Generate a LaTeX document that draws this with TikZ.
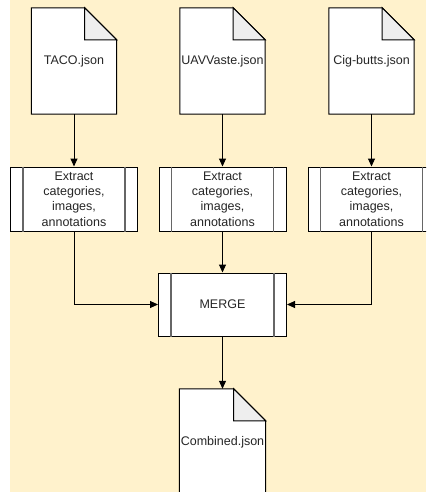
\documentclass[tikz,border=0pt]{standalone}
\usepackage{fontspec}
\setmainfont{Liberation Sans}
\usepackage{tikz}
\usetikzlibrary{arrows.meta,backgrounds}

\definecolor{cream}{HTML}{FFF2CC}
\definecolor{foldgray}{HTML}{EEEEEE}
\definecolor{bargray}{HTML}{666666}

\begin{document}
\begin{tikzpicture}[x=1pt, y=-1pt,
    every node/.style = {font=\fontsize{12.5}{15.3}\selectfont, text=black!85, align=center},
    docnode/.style = {minimum width=85pt, minimum height=106pt, inner sep=0pt},
    procnode/.style = {draw, line width=1pt, fill=white, minimum width=127pt, minimum height=64pt, inner sep=0pt},
    flow/.style = {line width=1pt, -{Triangle[length=8pt, width=7pt]}}]
     \useasboundingbox (0, 0) rectangle (426, 492);
     \clip (0, 0) rectangle (426, 492);
     % input files
     \node[docnode] (taco) at (74, 61) {TACO.json};
     \node[docnode] (uav) at (222.5, 61) {UAVVaste.json};
     \node[docnode] (cig) at (371.5, 61) {Cig-butts.json};
     % extraction steps
     \node[procnode] (ext1) at (74, 199) {Extract\\categories,\\images,\\annotations};
     \node[procnode] (ext2) at (222.5, 199) {Extract\\categories,\\images,\\annotations};
     \node[procnode] (ext3) at (371.5, 199) {Extract\\categories,\\images,\\annotations};
     \node[procnode, minimum width=128pt, minimum height=63pt] (merge) at (222.5, 304.5) {MERGE};
     % output file
     \node[docnode, minimum width=86pt] (comb) at (222.5, 442) {Combined.json};
     % side bars of the process boxes
     \foreach \p in {ext1, ext2, ext3, merge} {
        \draw[bargray, line width=1.5pt] ([xshift=13pt]\p.north west) -- ([xshift=13pt]\p.south west);
        \draw[bargray, line width=1.5pt] ([xshift=-13pt]\p.north east) -- ([xshift=-13pt]\p.south east);
     }
     % folded corners
     \foreach \d in {taco, uav, cig, comb}
        \filldraw[fill=foldgray, line width=1pt] ([xshift=-32pt]\d.north east) |- ([yshift=-32pt]\d.north east) -- cycle;
     \begin{scope}[on background layer]
        \fill[cream] (10, 0) rectangle (426, 492);
        \foreach \d in {taco, uav, cig, comb}
           \filldraw[fill=white, line width=1pt] (\d.south west) -- (\d.north west) -- ([xshift=-32pt]\d.north east) -- ([yshift=-32pt]\d.north east) -- (\d.south east) -- cycle;
     \end{scope}
     % connectors
     \draw[flow] (taco) -- (ext1);
     \draw[flow] (uav) -- (ext2);
     \draw[flow] (cig) -- (ext3);
     \draw[flow] (ext1) |- (merge);
     \draw[flow] (ext2) -- (merge);
     \draw[flow] (ext3) |- (merge);
     \draw[flow] (merge) -- (comb);
\end{tikzpicture}
\end{document}
